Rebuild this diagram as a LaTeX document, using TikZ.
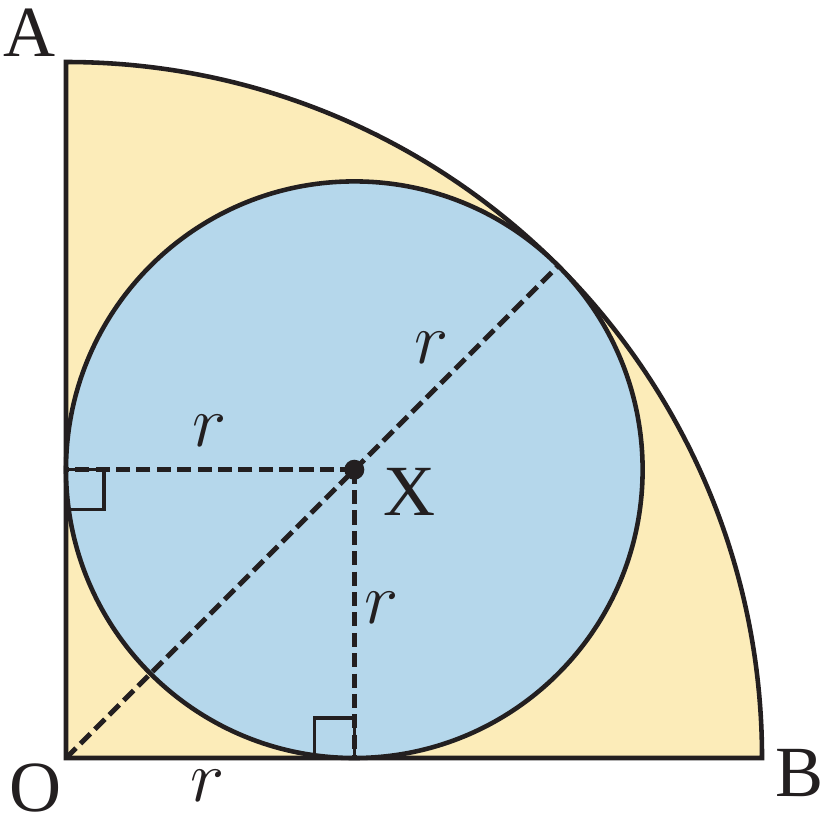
\documentclass[tikz,border=0pt]{standalone}
\usepackage{fontspec}
\setmainfont{Liberation Serif}
\usetikzlibrary{positioning, calc}
\definecolor{sectoryellow}{RGB}{252,236,185}
\definecolor{circleblue}{RGB}{181,215,235}
\definecolor{ink}{RGB}{35,31,32}
\tikzset{
  outline/.style={draw=ink, line width=1.3pt},
  radius line/.style={draw=ink, line width=1.4pt, dash pattern=on 4pt off 1.8pt},
  lbl/.style={text=ink, font=\fontsize{20.5}{24}\selectfont, inner sep=0pt}
}
\begin{document}
\begin{tikzpicture}
        \useasboundingbox (-0.66,-0.61) rectangle (7.58,7.58);
        % Points
        \coordinate (O) at (0,0);
        \coordinate (A) at (0,6.96);
        \coordinate (B) at (6.96,0);
        \coordinate (X) at (2.883,2.883);
        \coordinate (T1) at (0,2.883);
        \coordinate (T2) at (2.883,0);
        \coordinate (T3) at ($(X)+(45:2.883)$);
        % Quarter disc and inscribed circle
        \draw[outline, fill=sectoryellow] (O) -- (A) arc (90:0:6.96) -- cycle;
        \draw[outline, fill=circleblue] (X) circle (2.883);
        % Right angle marks
        \draw[draw=ink, line width=1pt] (T1) rectangle ++(0.38,-0.40);
        \draw[draw=ink, line width=1pt] (T2) rectangle ++(-0.40,0.40);
        % Radii
        \draw[radius line] (O) -- (T3);
        \draw[radius line] (X) -- (T1);
        \draw[radius line] (X) -- (T2);
        \fill[ink] (X) circle (0.1);
        % Labels
        \node[lbl] (lA) at (-0.36,7.25) {A};
        \node[lbl] (lB) at (7.34,-0.15) {B};
        \node[lbl] (lO) at (-0.30,-0.30) {O};
        \node[lbl] (lX) at (3.44,2.66) {X};
        \node[lbl] (r1) at (1.44,3.27) {$r$};
        \node[lbl] (r2) at (3.66,4.10) {$r$};
        \node[lbl] (r3) at (3.16,1.50) {$r$};
        \node[lbl] (r4) at (1.42,-0.28) {$r$};
\end{tikzpicture}
\end{document}
